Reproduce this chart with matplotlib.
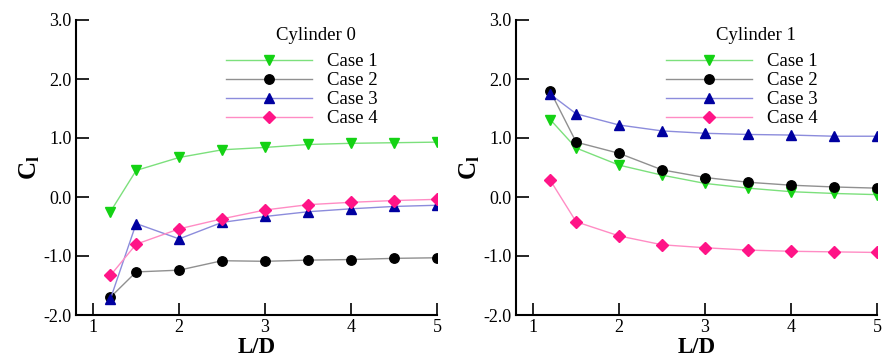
import numpy as np
import matplotlib
matplotlib.use('Agg')
import matplotlib.pyplot as plt
from matplotlib.ticker import FormatStrFormatter

plt.rcParams['font.family'] = ['Liberation Serif', 'DejaVu Serif']
plt.rcParams['mathtext.fontset'] = 'custom'
plt.rcParams['mathtext.rm'] = 'Liberation Serif'
plt.rcParams['mathtext.bf'] = 'Liberation Serif:bold'
plt.rcParams['axes.unicode_minus'] = False

# data
LD = [1.2, 1.5, 2.0, 2.5, 3.0, 3.5, 4.0, 4.5, 5.0]
case_labels = ['Case 1', 'Case 2', 'Case 3', 'Case 4']

cyl0_case1 = [-0.25, 0.45, 0.67, 0.80, 0.84, 0.89, 0.91, 0.92, 0.93]
cyl0_case2 = [-1.70, -1.27, -1.24, -1.08, -1.09, -1.07, -1.06, -1.04, -1.03]
cyl0_case3 = [-1.73, -0.45, -0.71, -0.43, -0.33, -0.25, -0.20, -0.16, -0.14]
cyl0_case4 = [-1.33, -0.80, -0.54, -0.37, -0.22, -0.13, -0.09, -0.06, -0.04]

cyl1_case1 = [1.31, 0.83, 0.54, 0.37, 0.23, 0.15, 0.09, 0.06, 0.04]
cyl1_case2 = [1.79, 0.93, 0.74, 0.46, 0.33, 0.25, 0.20, 0.17, 0.15]
cyl1_case3 = [1.74, 1.41, 1.22, 1.12, 1.08, 1.06, 1.05, 1.03, 1.03]
cyl1_case4 = [0.28, -0.42, -0.66, -0.81, -0.86, -0.90, -0.92, -0.93, -0.94]

panels = [('Cylinder 0', [cyl0_case1, cyl0_case2, cyl0_case3, cyl0_case4]),
          ('Cylinder 1', [cyl1_case1, cyl1_case2, cyl1_case3, cyl1_case4])]

marker_colors = ['#14d214', 'black', '#0000a0', '#ff1487']
line_colors = ['#7ce07c', '#909090', '#8c8cdc', '#ff8cc4']
markers = ['v', 'o', '^', 'D']
marker_sizes = [7, 6.8, 7, 6]

fig = plt.figure(figsize=(8.86, 3.57), dpi=100)
lefts = [76 / 886, 516 / 886]

for left, (title, series) in zip(lefts, panels):
    ax = fig.add_axes([left, 1 - 315 / 357, 361 / 886, 295 / 357])
    for ys, mc, lc, m, ms, lab in zip(series, marker_colors, line_colors, markers, marker_sizes, case_labels):
        ax.plot(LD, ys, color=lc, linewidth=1.0, marker=m, markersize=ms,
                markerfacecolor=mc, markeredgecolor=mc, label=lab)
    ax.set_xlim(0.8, 5.0)
    ax.set_ylim(-2.0, 3.0)
    ax.set_xticks([1, 2, 3, 4, 5])
    ax.set_yticks([-2, -1, 0, 1, 2, 3])
    ax.yaxis.set_major_formatter(FormatStrFormatter('%.1f'))
    ax.spines['top'].set_visible(False)
    ax.spines['right'].set_visible(False)
    for s in ['left', 'bottom']:
        ax.spines[s].set_linewidth(1.5)
    ax.tick_params(direction='in', length=9, width=1.2, labelsize=13, pad=3)
    ax.set_xlabel('L/D', fontsize=16.5, fontweight='bold', labelpad=0.5)
    ax.set_ylabel(r'$\mathbf{C_l}$', fontsize=18, labelpad=1)
    ax.legend(loc='upper left', bbox_to_anchor=(0.415, 0.888), frameon=False,
              fontsize=13.5, handlelength=4.6, handletextpad=0.8,
              labelspacing=0.1, borderpad=0, borderaxespad=0)
    ax.text((316 - 76) / 361, 1 - (35 - 20) / 295, title, transform=ax.transAxes,
            ha='center', va='center', fontsize=13.5)

fig.savefig('out.png', dpi=100)
